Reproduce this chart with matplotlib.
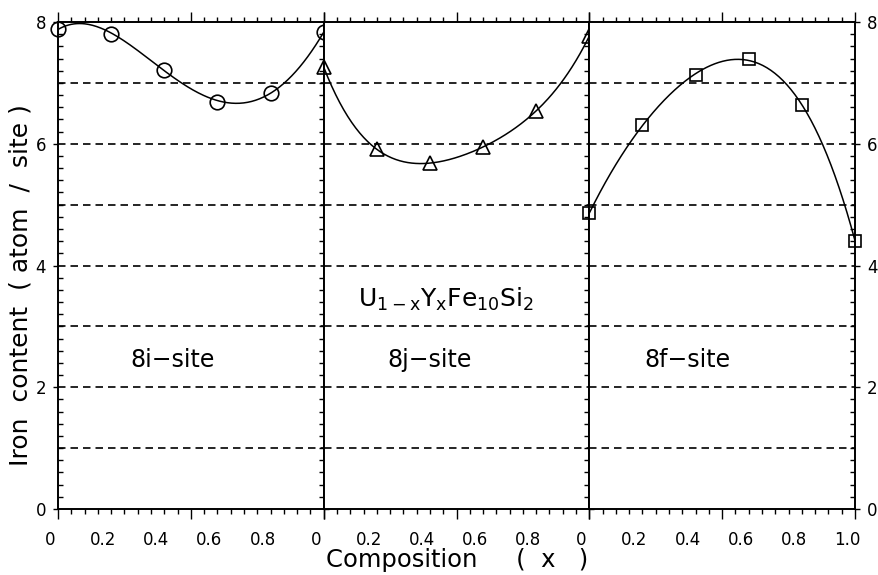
import numpy as np
import matplotlib
matplotlib.use('Agg')
import matplotlib.pyplot as plt
import matplotlib.transforms as mtransforms
from matplotlib.ticker import MultipleLocator, FixedLocator

# iron content per site vs composition x in U(1-x)Y(x)Fe10Si2
comp = [0.0, 0.2, 0.4, 0.6, 0.8, 1.0]
fe_8i = [7.88, 7.81, 7.22, 6.69, 6.84, 7.83]
fe_8j = [7.26, 5.91, 5.68, 5.95, 6.54, 7.77]
fe_8f = [4.86, 6.31, 7.13, 7.39, 6.63, 4.41]

site_names = ['8i\u2212site', '8j\u2212site', '8f\u2212site']
site_markers = ['o', '^', 's']
site_msize = [10.5, 10, 9]
x_ticklabels = ['0', '0.2', '0.4', '0.6', '0.8']
x_ticklabels_last = ['0', '0.2', '0.4', '0.6', '0.8', '1.0']
dash_levels = [1, 2, 3, 4, 5, 6, 7]

plt.rcParams['font.family'] = ['DejaVu Sans']

fig, axes = plt.subplots(1, 3, figsize=(8.79, 5.75), dpi=100)
fig.subplots_adjust(left=0.066, right=0.9727, bottom=0.1148, top=0.9617, wspace=0)

series = [fe_8i, fe_8j, fe_8f]
label_pos = [(0.43, 2.45), (0.40, 2.45), (0.37, 2.45)]
shift = mtransforms.ScaledTranslation(-8 / 100, 0, fig.dpi_scale_trans)

for i, ax in enumerate(axes):
    y = series[i]
    # smooth fit line through the points
    coef = np.polyfit(comp, y, 4)
    xx = np.linspace(0, 1, 200)
    ax.plot(xx, np.polyval(coef, xx), color='k', lw=1.1)
    ax.plot(comp, y, linestyle='none', marker=site_markers[i], ms=site_msize[i],
            mfc='none', mec='k', mew=1.2, clip_on=False, zorder=5)

    for lv in dash_levels:
        ax.axhline(lv, color='k', lw=1.2, dashes=(4.5, 3), zorder=1)

    ax.text(label_pos[i][0], label_pos[i][1], site_names[i], fontsize=17,
            ha='center', va='center')

    ax.set_xlim(0, 1)
    ax.set_ylim(0, 8)
    for sp in ax.spines.values():
        sp.set_linewidth(1.4)

    # x ticks: long at 0, 0.5, 1 and short every 0.05, top and bottom, outward
    ax.xaxis.set_major_locator(FixedLocator([0, 0.5, 1.0]))
    ax.xaxis.set_minor_locator(MultipleLocator(0.05))
    ax.tick_params(axis='x', which='major', direction='out', length=7,
                   width=1.0, top=True, bottom=True, labelbottom=False)
    ax.tick_params(axis='x', which='minor', direction='out', length=3.6,
                   width=1.0, top=True, bottom=True)

    # y ticks: minor inward every 0.2, major outward every 2
    ax.yaxis.set_major_locator(MultipleLocator(2))
    ax.yaxis.set_minor_locator(MultipleLocator(0.2))
    ax.tick_params(axis='y', which='minor', direction='in', length=3.6, width=1.0)
    ax.tick_params(axis='y', which='major', direction='out', length=3.6,
                   width=1.0, labelsize=12, pad=5)
    if i == 0:
        ax.tick_params(axis='y', which='both', left=True, right=True,
                       labelleft=True, labelright=False)
    else:
        ax.tick_params(axis='y', which='both', left=False, right=True,
                       labelleft=False, labelright=(i == 2))

    # x tick labels on a secondary axis so they sit between the long ticks
    sec = ax.secondary_xaxis('bottom')
    labs = x_ticklabels_last if i == 2 else x_ticklabels
    sec.set_xticks(comp[:len(labs)], labs)
    sec.tick_params(length=0, pad=16, labelsize=12)
    sec.spines['bottom'].set_visible(False)
    for t in sec.get_xticklabels():
        t.set_transform(t.get_transform() + shift)

axes[1].text(0.46, 3.45, r'$\mathregular{U_{1-x}Y_xFe_{10}Si_2}$', fontsize=18,
             ha='center', va='center')

axes[0].set_ylabel('Iron  content  ( atom  /  site )', fontsize=18)
axes[0].yaxis.set_label_coords(-0.095, 0.46)

fig.text(457 / 879, 1 - 560 / 575, 'Composition     (  x   )', fontsize=17.5,
         ha='center', va='center')

fig.savefig('out.png', dpi=100)
